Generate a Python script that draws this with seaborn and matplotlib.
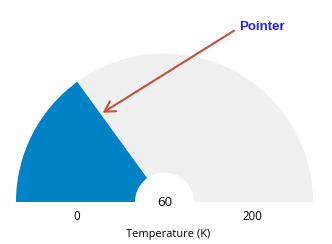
import matplotlib
matplotlib.use("Agg")
import matplotlib.pyplot as plt
from matplotlib.patches import Wedge
import seaborn as sns

# data
gauge_min = [0]
gauge_max = [200]
gauge_value = [60]
axis_title = "Temperature (K)"
annotation_text = "Pointer"

sns.set_theme(style="white")
plt.rcParams['font.family'] = ['Open Sans', 'DejaVu Sans']

fig = plt.figure(figsize=(3.32, 2.44), dpi=100)
ax = fig.add_axes([0, 0, 1, 1])
ax.set_xlim(0, 332)
ax.set_ylim(0, 244)
ax.set_aspect('equal')
ax.axis('off')

cx, cy = 164.5, 42.0
r_out, r_in = 148.5, 29.5
vmin, vmax, val = gauge_min[0], gauge_max[0], gauge_value[0]

frac = (val - vmin) / (vmax - vmin)
ang = 180 - 180 * frac

ax.add_patch(Wedge((cx, cy), r_out, 0, 180, width=r_out - r_in,
                   facecolor="#efefef", edgecolor="none"))
ax.add_patch(Wedge((cx, cy), r_out, ang, 180, width=r_out - r_in,
                   facecolor="#0082c6", edgecolor="none"))

mid = (r_out + r_in) / 2
ax.text(cx - mid + 1.5, 27, f"{vmin}", ha='center', va='center', fontsize=8.3, color="#000000")
ax.text(cx + mid - 1.5, 27, f"{vmax}", ha='center', va='center', fontsize=8.3, color="#000000")
ax.text(cx, 42, f"{val}", ha='center', va='center', fontsize=9.5, color="#000000")
ax.text(cx + 4, 10, axis_title, ha='center', va='center', fontsize=7.9, color="#000000")

ax.annotate("", xy=(102.7, 131.3), xytext=(234, 213.3),
            arrowprops=dict(arrowstyle="->,head_length=0.6,head_width=0.35",
                            color="#c0503c", lw=1.5, shrinkA=0, shrinkB=0))
ax.text(239, 217.5, annotation_text, ha='left', va='center', fontsize=9.5,
        fontweight='bold', color="#2020ee", family=['Liberation Sans', 'DejaVu Sans'])

fig.savefig("out.png", dpi=100)
